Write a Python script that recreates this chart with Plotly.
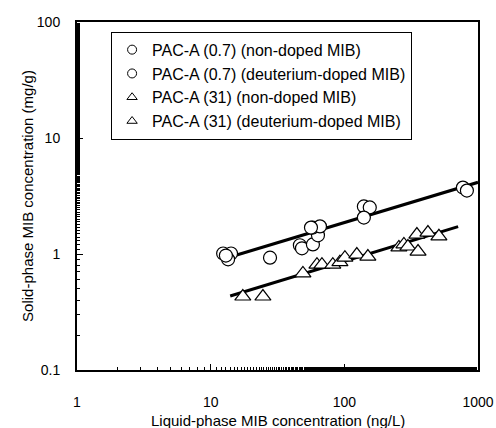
import plotly.graph_objects as go

# PAC-A (0.7) data (circles)
circle_x = [12.4, 14.2, 13.5, 13.0, 27.8, 46.5, 48.2, 58.2, 63.5, 58.0, 65.7, 56.3, 140, 155, 140, 771, 826]
circle_y = [1.01, 1.01, 0.90, 0.97, 0.93, 1.19, 1.12, 1.21, 1.45, 1.69, 1.73, 1.69, 2.57, 2.52, 2.06, 3.74, 3.52]

# PAC-A (31) data (triangles)
tri_x = [17.4, 24.6, 49, 62.4, 68, 82, 92.7, 101, 124, 150, 256, 279, 299, 356, 349, 422, 510]
tri_y = [0.43, 0.43, 0.68, 0.81, 0.81, 0.81, 0.85, 0.93, 0.99, 0.95, 1.14, 1.21, 1.16, 1.05, 1.47, 1.53, 1.42]

# fitted isotherm lines (end points)
fit_circle_x = [15, 1000]
fit_circle_y = [0.965, 4.15]
fit_tri_x = [14, 710]
fit_tri_y = [0.435, 1.72]

legend_names = [
    "PAC-A (0.7) (non-doped MIB)",
    "PAC-A (0.7) (deuterium-doped MIB)",
    "PAC-A (31) (non-doped MIB)",
    "PAC-A (31) (deuterium-doped MIB)",
]
legend_symbols = ["circle-open", "circle-open", "triangle-up-open", "triangle-up-open"]

x_title = "Liquid-phase MIB concentration (ng/L)"
y_title = "Solid-phase MIB concentration (mg/g)"

FONT = "Liberation Sans, Arial, sans-serif"

fig = go.Figure()

fig.add_trace(go.Scatter(x=fit_circle_x, y=fit_circle_y, mode="lines",
                         line=dict(color="black", width=3), showlegend=False))
fig.add_trace(go.Scatter(x=fit_tri_x, y=fit_tri_y, mode="lines",
                         line=dict(color="black", width=3), showlegend=False))

fig.add_trace(go.Scatter(x=circle_x, y=circle_y, mode="markers", showlegend=False,
                         marker=dict(symbol="circle", size=13, color="white",
                                     line=dict(color="black", width=1.2))))
fig.add_trace(go.Scatter(x=tri_x, y=tri_y, mode="markers", showlegend=False,
                         marker=dict(symbol="triangle-up", size=14, color="white",
                                     line=dict(color="black", width=1.2))))

for name, sym in zip(legend_names, legend_symbols):
    fig.add_trace(go.Scatter(x=[None], y=[None], mode="markers", name=name,
                             marker=dict(symbol=sym, size=9, color="black",
                                         line=dict(color="black", width=1))))

axis_common = dict(
    type="log",
    showgrid=False,
    zeroline=False,
    showline=True,
    linecolor="black",
    linewidth=2,
    mirror=True,
    ticks="inside",
    ticklen=6,
    tickwidth=1,
    tickcolor="black",
    minor=dict(ticks="inside", ticklen=3, tickwidth=1, tickcolor="black", showgrid=False),
    tickfont=dict(family=FONT, size=14, color="black"),
)

fig.update_xaxes(**axis_common, range=[0, 3],
                 tickvals=[1, 10, 100, 1000], ticktext=["1", "10", "100", "1000"],
                 ticklabelstandoff=18, automargin=False)
fig.update_yaxes(**axis_common, range=[-1, 2],
                 tickvals=[0.1, 1, 10, 100], ticktext=["0.1", "1", "10", "100"],
                 ticklabelstandoff=12, automargin=True,
                 title=dict(text=y_title,
                            font=dict(family=FONT, size=15, color="black"), standoff=0))

fig.add_annotation(text=x_title, xref="paper", yref="paper", x=0.5, y=-0.1437,
                   xanchor="center", yanchor="middle", showarrow=False,
                   font=dict(family=FONT, size=15, color="black"))

fig.update_layout(
    width=496, height=428,
    margin=dict(l=77, r=18, t=22, b=58),
    paper_bgcolor="white", plot_bgcolor="white",
    font=dict(family=FONT, size=14, color="black"),
    legend=dict(x=0.085, y=0.972, xanchor="left", yanchor="top",
                bordercolor="black", borderwidth=1, bgcolor="white",
                font=dict(family=FONT, size=16, color="black"),
                itemwidth=30, tracegroupgap=0),
)

fig.write_html("out.html")
